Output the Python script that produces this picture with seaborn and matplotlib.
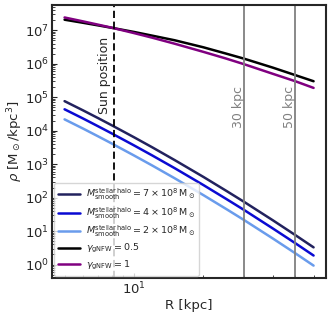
import numpy as np
import pandas as pd
import matplotlib
matplotlib.use("Agg")
import matplotlib.pyplot as plt
import seaborn as sns

radius = [5, 6, 7, 8, 10, 12, 15, 20, 25, 30, 40, 50, 60]

# smooth stellar halo densities [Msun/kpc^3]
rho_halo_7e8 = [7.6e4, 4.06e4, 2.35e4, 1.45e4, 6.34e3, 3.17e3, 1.32e3, 413, 162, 74.5, 20.9, 7.59, 3.26]
rho_halo_4e8 = [4.34e4, 2.32e4, 1.34e4, 8.28e3, 3.62e3, 1.81e3, 757, 236, 92.6, 42.6, 11.9, 4.34, 1.86]
rho_halo_2e8 = [2.17e4, 1.16e4, 6.71e3, 4.14e3, 1.81e3, 906, 378, 118, 46.3, 21.3, 5.97, 2.17, 0.93]

# gNFW dark matter densities [Msun/kpc^3]
rho_gnfw_05 = [2.06e7, 1.67e7, 1.39e7, 1.18e7, 8.87e6, 6.87e6, 5.01e6, 3.08e6, 2.01e6, 1.41e6, 7.60e5, 4.55e5, 2.99e5]
rho_gnfw_1 = [2.40e7, 1.84e7, 1.46e7, 1.19e7, 8.20e6, 5.97e6, 3.95e6, 2.25e6, 1.43e6, 9.64e5, 4.97e5, 2.99e5, 1.89e5]

sun_r = 8.2
ref_radii = [30, 50]

labels = [
    r"$M^{\rm stellar\,halo}_{\rm smooth} = 7\times10^8\,\rm M_\odot$",
    r"$M^{\rm stellar\,halo}_{\rm smooth} = 4\times10^8\,\rm M_\odot$",
    r"$M^{\rm stellar\,halo}_{\rm smooth} = 2\times10^8\,\rm M_\odot$",
    r"$\gamma_{\rm gNFW} = 0.5$",
    r"$\gamma_{\rm gNFW} = 1$",
]
colors = ["#22225e", "#0a0ad2", "#6a9cec", "black", "purple"]
series = [rho_halo_7e8, rho_halo_4e8, rho_halo_2e8, rho_gnfw_05, rho_gnfw_1]

sns.set_style("ticks")
plt.rcParams["font.family"] = ["DejaVu Sans"]

fig = plt.figure(figsize=(3.32, 3.17), dpi=100)
ax = fig.add_axes([0.157, 0.123, 0.825, 0.861])

for vals, lab, col in zip(series, labels, colors):
    df = pd.DataFrame({"R": radius, "rho": vals})
    sns.lineplot(data=df, x="R", y="rho", color=col, label=lab, linewidth=1.8, ax=ax)

ax.set_xscale("log")
ax.set_yscale("log")

# reference radii
ax.axvline(sun_r, color="black", linestyle=(0, (4, 2)), linewidth=1.3)
ax.text(7.43, 4.5e5, "Sun position", rotation=90, ha="center", va="center", fontsize=9)
for r, tx in zip(ref_radii, [28.4, 47.0]):
    ax.axvline(r, color="grey", linewidth=1.3)
    ax.text(tx, 5.0e4, f"{r} kpc", rotation=90, ha="center", va="center", fontsize=9, color="grey")

ax.set_xlabel("R [kpc]", fontsize=9.5, labelpad=1)
ax.set_ylabel(r"$\rho\ [\rm M_\odot/kpc^3]$", fontsize=9.5, labelpad=0)
ax.tick_params(which="both", direction="in", labelsize=9.5, pad=2)
for s in ax.spines.values():
    s.set_linewidth(1.5)

ax.legend(loc="lower left", fontsize=6.8, handlelength=2.3, borderpad=0.4,
          labelspacing=0.35, handletextpad=0.6, borderaxespad=0.25)

fig.savefig("out.png", dpi=100)
